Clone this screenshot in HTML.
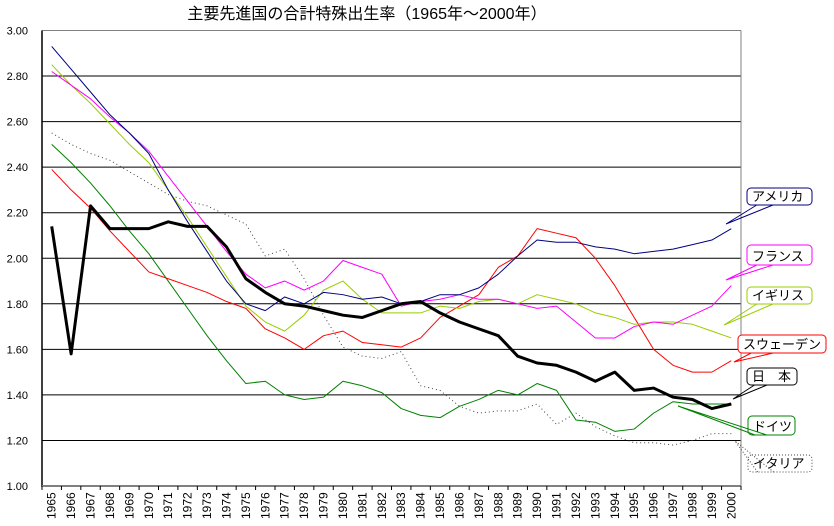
<!DOCTYPE html>
<html><head><meta charset="utf-8"><style>
body{margin:0;background:#fff;}
svg{display:block;font-family:"Liberation Sans","Noto Sans CJK JP",sans-serif;}
</style></head><body>
<svg id="chart" width="834" height="526" viewBox="0 0 834 526" xmlns="http://www.w3.org/2000/svg">
<text x="367" y="19" text-anchor="middle" font-size="16" fill="#000">主要先進国の合計特殊出生率（1965年～2000年）</text>
<g id="grid"></g><g id="series"></g><g id="axes"></g><g id="callouts"></g>
</svg>
<script>
const years=[1965,1966,1967,1968,1969,1970,1971,1972,1973,1974,1975,1976,1977,1978,1979,1980,1981,1982,1983,1984,1985,1986,1987,1988,1989,1990,1991,1992,1993,1994,1995,1996,1997,1998,1999,2000];
const yTicks=[1.00,1.20,1.40,1.60,1.80,2.00,2.20,2.40,2.60,2.80,3.00];
const japan=[2.14,1.58,2.23,2.13,2.13,2.13,2.16,2.14,2.14,2.05,1.91,1.85,1.80,1.79,1.77,1.75,1.74,1.77,1.80,1.81,1.76,1.72,1.69,1.66,1.57,1.54,1.53,1.50,1.46,1.50,1.42,1.43,1.39,1.38,1.34,1.36];
const usa=[2.93,2.83,2.73,2.63,2.55,2.46,2.30,2.16,2.03,1.90,1.80,1.77,1.83,1.80,1.85,1.84,1.82,1.83,1.80,1.81,1.84,1.84,1.87,1.93,2.01,2.08,2.07,2.07,2.05,2.04,2.02,2.03,2.04,2.06,2.08,2.13];
const france=[2.82,2.76,2.70,2.62,2.55,2.47,2.36,2.25,2.14,2.03,1.93,1.87,1.90,1.86,1.90,1.99,1.96,1.93,1.79,1.81,1.82,1.84,1.82,1.82,1.80,1.78,1.79,1.72,1.65,1.65,1.70,1.72,1.71,1.75,1.79,1.88];
const uk=[2.85,2.76,2.68,2.59,2.50,2.42,2.30,2.18,2.05,1.92,1.79,1.72,1.68,1.75,1.86,1.90,1.82,1.76,1.76,1.76,1.79,1.78,1.81,1.82,1.80,1.84,1.82,1.80,1.76,1.74,1.71,1.72,1.72,1.71,1.68,1.65];
const sweden=[2.39,2.30,2.22,2.12,2.03,1.94,1.91,1.88,1.85,1.81,1.78,1.69,1.65,1.60,1.66,1.68,1.63,1.62,1.61,1.65,1.74,1.79,1.84,1.96,2.01,2.13,2.11,2.09,2.00,1.88,1.74,1.60,1.53,1.50,1.50,1.55];
const germany=[2.50,2.42,2.33,2.23,2.12,2.02,1.90,1.78,1.66,1.55,1.45,1.46,1.40,1.38,1.39,1.46,1.44,1.41,1.34,1.31,1.30,1.35,1.38,1.42,1.40,1.45,1.42,1.29,1.28,1.24,1.25,1.32,1.37,1.36,1.36,1.36];
const italy=[2.55,2.50,2.46,2.43,2.38,2.33,2.28,2.25,2.23,2.19,2.15,2.01,2.04,1.91,1.75,1.61,1.57,1.56,1.59,1.44,1.42,1.35,1.32,1.33,1.33,1.36,1.27,1.32,1.26,1.22,1.19,1.19,1.18,1.20,1.23,1.23];

const NS="http://www.w3.org/2000/svg";
const L=42,R=741,T=30.5,B=486,yMin=1,yMax=3;
const step=(R-L)/years.length;
const xs=i=>L+step*(i+0.5);
const ys=v=>B-(v-yMin)/(yMax-yMin)*(B-T);
function mk(tag,attrs,parent){const e=document.createElementNS(NS,tag);for(const k in attrs)e.setAttribute(k,attrs[k]);parent.appendChild(e);return e;}
const grid=document.getElementById('grid'),axes=document.getElementById('axes'),ser=document.getElementById('series'),cal=document.getElementById('callouts');

yTicks.forEach(t=>{
  const y=ys(t);
  if(t>yMin){const g=mk('line',{x1:L,x2:R,y1:y,y2:y,stroke:t===yMax?'#808080':'#000','stroke-width':1},grid);
  
  }
  const tx=mk('text',{x:28,y:y+4,'text-anchor':'end','font-size':11},axes);
  tx.textContent=t.toFixed(2);
  
  
});
mk('line',{x1:R,x2:R,y1:T,y2:B,stroke:'#808080'},grid);
mk('line',{x1:L,x2:L,y1:T,y2:B+1,stroke:'#000','stroke-width':1.5},axes);
mk('line',{x1:L,x2:R,y1:B,y2:B,stroke:'#808080','stroke-width':2},axes);
years.forEach((yr,i)=>{
  const tx0=L+step*i;
  mk('line',{x1:tx0,x2:tx0,y1:B,y2:B+4,stroke:'#000'},axes);
  const x=xs(i);
  const t=mk('text',{x:0,y:0,transform:`translate(${x+4},519) rotate(-90)`,'font-size':12},axes);
  t.textContent=yr;
  
  
});
mk('line',{x1:R,x2:R,y1:B,y2:B+4,stroke:'#000'},axes);

function line(data,color,w,name,dash){
  const p=mk('polyline',{points:data.map((v,i)=>xs(i)+','+ys(v)).join(' '),fill:'none',stroke:color,'stroke-width':w,'stroke-linejoin':'round'},ser);
  if(dash)p.setAttribute('stroke-dasharray',dash);
  
  
}
line(italy,'#444',1,'italy-line','1 3');
line(germany,'#008000',1,'germany-line');
line(sweden,'#ff0000',1,'sweden-line');
line(uk,'#99cc00',1,'uk-line');
line(france,'#ff00ff',1,'france-line');
line(usa,'#000080',1,'usa-line');
line(japan,'#000',3,'japan-line');

function callout(label,color,bx,by,bw,bh,px,py,name,dash){
  const g=mk('g',{},cal);
  
  
  const r=mk('rect',{x:bx,y:by,width:bw,height:bh,rx:4,fill:'#fff',stroke:color,'stroke-width':1},g);
  if(dash)r.setAttribute('stroke-dasharray','1 2');
  const w=mk('polyline',{points:`${bx+bw*0.15},${by+bh} ${px},${py} ${bx+bw*0.4},${by+bh}`,fill:'none',stroke:color},g);
  if(dash)w.setAttribute('stroke-dasharray','1 2');
  const t=mk('text',{x:bx+5,y:by+bh-4,'font-size':13,fill:'#000'},g);
  t.textContent=label;
}
callout('アメリカ','#000080',747,188,65,17,726,224,'callout-usa');
callout('フランス','#ff00ff',747,245,65,20,726,280,'callout-france');
callout('イギリス','#99cc00',747,287,65,17,724,325,'callout-uk');
callout('スウェーデン','#ff0000',738,335,88,18,734,362,'callout-sweden');
callout('日　本','#000',747,368,50,17,733,399,'callout-japan');
callout('ドイツ','#008000',748,416,47,19,678,406,'callout-germany');
callout('イタリア','#444',748,455,64,17,735,441,'callout-italy',true);
</script>
</body></html>
